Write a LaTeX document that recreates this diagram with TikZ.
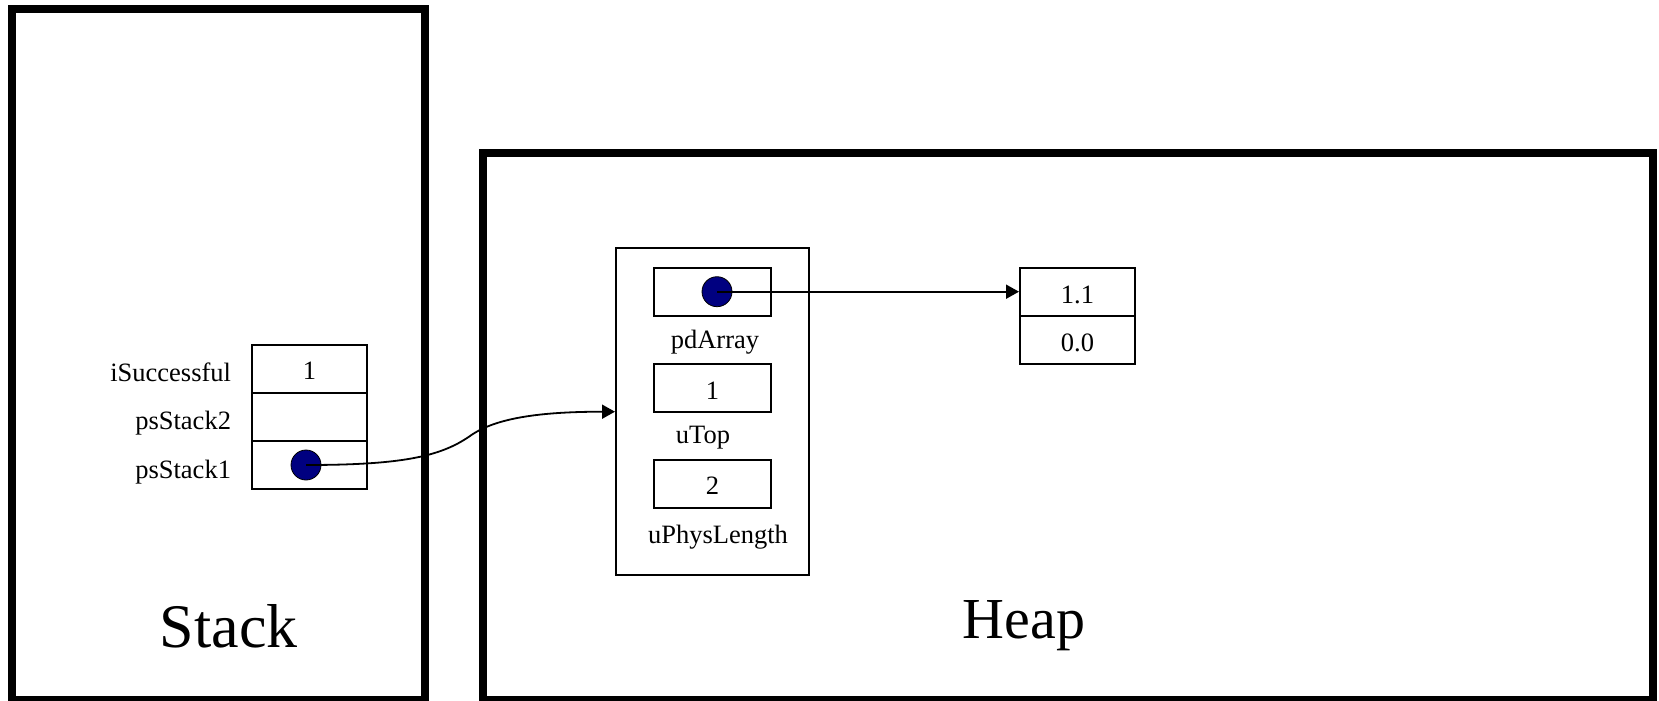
\documentclass[tikz,border=0pt]{standalone}
\usepackage{fontspec}
\setmainfont{Liberation Serif}
\usetikzlibrary{arrows.meta}
\definecolor{dotblue}{RGB}{0,0,128}
\begin{document}
\begin{tikzpicture}[x=0.5pt,y=-0.5pt,
  frame/.style={draw, line width=4pt, rectangle, inner sep=0pt},
  cell/.style={draw, line width=1pt, rectangle, inner sep=0pt, minimum height=24pt, text height=11pt, text depth=0pt, font=\fontsize{13.25}{15}\selectfont},
  lbl/.style={anchor=base, inner sep=0pt, font=\fontsize{13.25}{15}\selectfont},
  dot/.style={circle, draw, line width=0.4pt, fill=dotblue, minimum size=15pt, inner sep=0pt},
  big/.style={anchor=base, inner sep=0pt},
  conn/.style={line width=0.9pt, -{Triangle[length=6.5pt,width=7pt]}}]
\useasboundingbox (0,0) rectangle (1659,701);
% frames
\node[frame, minimum width=206.25pt, minimum height=345.5pt] (stackframe) at (218.25,354.5) {};
\node[frame, minimum width=585pt, minimum height=273.5pt] (heapframe) at (1068,426.5) {};
\node[big, font=\fontsize{31}{36}\selectfont] (stacklbl) at (228.7,647) {Stack};
\node[big, font=\fontsize{29}{34}\selectfont] (heaplbl) at (1024,638) {Heap};
% stack record
\node[cell, minimum width=57.65pt] (c1) at (309.5,368.5) {1};
\node[cell, minimum width=57.65pt] (c2) at (309.5,416.7) {};
\node[cell, minimum width=57.65pt] (c3) at (309.5,465) {};
\node[lbl, anchor=base east] (l1) at (231.4,381.7) {iSuccessful};
\node[lbl, anchor=base east] (l2) at (231.4,429.9) {psStack2};
\node[lbl, anchor=base east] (l3) at (231.4,478.2) {psStack1};
\node[dot] (d1) at (306,465) {};
% struct
\node[draw, line width=1pt, rectangle, inner sep=0pt, minimum width=96.5pt, minimum height=163.35pt] (struct) at (712.5,411.7) {};
\node[cell, minimum width=58.5pt] (s1) at (712.5,291.8) {};
\node[cell, minimum width=58.5pt] (s2) at (712.5,388.2) {1};
\node[cell, minimum width=58.5pt] (s3) at (712.5,483.8) {2};
\node[lbl] (sl1) at (715,348) {pdArray};
\node[lbl] (sl2) at (703,443) {uTop};
\node[lbl] (sl3) at (718,543) {uPhysLength};
\node[dot] (d2) at (717,291.7) {};
% array
\node[cell, minimum width=57.5pt] (a1) at (1077.5,292) {1.1};
\node[cell, minimum width=57.5pt] (a2) at (1077.5,340) {0.0};
% connectors
\draw[conn] (d1.center) .. controls (400,465) and (440,457) .. (470,436) .. controls (495,418) and (540,411.7) .. (struct.west |- 0,411.7);
\draw[conn] (d2.center) -- (a1.west |- d2.center);
\end{tikzpicture}
\end{document}
